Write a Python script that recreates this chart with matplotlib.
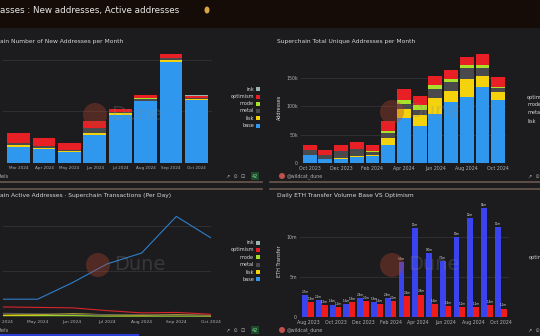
import numpy as np
import matplotlib.pyplot as plt
from matplotlib.patches import Ellipse, Rectangle

# --- data ---
series_names = ['base', 'lisk', 'metal', 'mode', 'optimism', 'ink']
series_colors = ['#2f97ee', '#f4d20c', '#4a4a4c', '#a8e02a', '#e81f24', '#9db4ae']

months_new = ['Mar 2024', 'Apr 2024', 'May 2024', 'Jun 2024',
              'Jul 2024', 'Aug 2024', 'Sep 2024', 'Oct 2024']
new_base = [31, 27, 21, 55, 94, 120, 197, 123]
new_lisk = [4.5, 3, 3, 4, 2.5, 1, 2, 1]
new_metal = [3, 3, 1.5, 8, 2, 4, 4.5, 2]
new_mode = [0.5, 0.5, 0.5, 1, 0.5, 0.5, 0.5, 0.5]
new_optimism = [19, 15, 12, 14, 6, 6.5, 8, 4.5]
new_ink = [0.3, 0.3, 0.3, 0.3, 0.3, 0.3, 0.3, 0.3]

months_tot = ['Oct 2023', 'Nov 2023', 'Dec 2023', 'Jan 2024', 'Feb 2024',
              'Mar 2024', 'Apr 2024', 'May 2024', 'Jun 2024', 'Jul 2024',
              'Aug 2024', 'Sep 2024', 'Oct 2024']
tot_base = [14.5, 7, 7, 10, 12, 32, 80, 65, 87, 108, 117, 134, 112]
tot_lisk = [0.5, 0.5, 1, 2, 2, 13, 15, 19, 27, 20, 32, 19, 13]
tot_metal = [7.5, 6, 13, 13, 6, 8, 10, 10, 17, 15, 18, 15, 8]
tot_mode = [0.5, 0.5, 0.5, 0.5, 2, 4, 7, 9, 7, 6, 6, 5, 2]
tot_optimism = [8, 9, 11, 11.5, 10, 17, 18, 16, 15, 15, 15, 19, 16]
tot_ink = [0, 0, 0, 0, 0, 0, 0, 0, 0, 0, 0, 0, 0]

months_act = ['Apr 2024', 'May 2024', 'Jun 2024', 'Jul 2024',
              'Aug 2024', 'Sep 2024', 'Oct 2024']
act_base = [0.39, 0.39, 0.75, 1.16, 1.40, 2.20, 1.73]
act_optimism = [0.22, 0.21, 0.20, 0.14, 0.09, 0.10, 0.06]
act_metal = [0.08, 0.07, 0.06, 0.05, 0.05, 0.04, 0.04]
act_lisk = [0.04, 0.05, 0.07, 0.05, 0.04, 0.05, 0.03]
act_mode = [0.03, 0.03, 0.03, 0.02, 0.02, 0.02, 0.02]
act_ink = [0.01, 0.01, 0.01, 0.01, 0.01, 0.01, 0.01]

months_eth = ['Aug 2023', 'Sep 2023', 'Oct 2023', 'Nov 2023', 'Dec 2023',
              'Jan 2024', 'Feb 2024', 'Mar 2024', 'Apr 2024', 'May 2024',
              'Jun 2024', 'Jul 2024', 'Aug 2024', 'Sep 2024', 'Oct 2024']
eth_base = [2.7, 2.1, 1.55, 1.6, 2.4, 1.9, 2.4, 6.9, 11.1, 8.0, 7.0, 10.0, 12.4, 13.6, 11.25]
eth_op = [1.9, 1.5, 1.25, 1.9, 2.0, 1.6, 2.0, 2.6, 2.8, 1.6, 1.35, 1.2, 1.25, 1.45, 1.05]

W, H = 540, 336
BG = '#1c1c1e'
TXT = '#d8d8d8'
TICK = '#b0b0b0'
GRID = '#333336'
ICONS = '↗  ⊙  ⊡'


def rect(x0, y0, x1, y1):
    return [x0 / W, 1 - y1 / H, (x1 - x0) / W, (y1 - y0) / H]


def fx(x):
    return x / W


def fy(y):
    return 1 - y / H


def style(ax, size=3.4):
    ax.set_facecolor(BG)
    for s in ax.spines.values():
        s.set_visible(False)
    ax.tick_params(length=0, colors=TICK, labelsize=size, pad=2)
    ax.grid(axis='y', color=GRID, lw=0.6)
    ax.set_axisbelow(True)


def watermark(x, y):
    fig.add_artist(Ellipse((fx(x), fy(y)), 24 / W, 24 / H, transform=fig.transFigure,
                           color='#b5452e', alpha=0.35, lw=0))
    fig.text(fx(x + 16), fy(y), 'Dune', color='#8a8a8a', alpha=0.25,
             fontsize=14, va='center', ha='left')


def legend(x, ys, labels, colors):
    for y, lab, c in zip(ys, labels, colors):
        fig.text(fx(x), fy(y), lab, color=TXT, fontsize=3.6, ha='right', va='center')
        fig.add_artist(Rectangle((fx(x + 2), fy(y + 2)), 4 / W, 4 / H,
                                 transform=fig.transFigure, color=c, lw=0))


fig = plt.figure(figsize=(5.4, 3.36), dpi=100)
fig.patch.set_facecolor(BG)

# header band
fig.add_artist(Rectangle((0, fy(28)), 1, 28 / H, transform=fig.transFigure,
                         color='#150c08', lw=0))
fig.text(fx(0), fy(10), 'asses : New addresses, Active addresses', color='#e8e8e8',
         fontsize=6.3, va='center', ha='left')
fig.add_artist(Ellipse((fx(207), fy(10)), 5 / W, 7 / H, transform=fig.transFigure,
                       color='#d9a441', lw=0))

# separators between rows
for y in (182, 189):
    fig.add_artist(plt.Line2D([0, fx(262)], [fy(y), fy(y)], color='#6a5750', lw=1.2))
    fig.add_artist(plt.Line2D([fx(270), 1], [fy(y), fy(y)], color='#6a5750', lw=1.2))

# --- top-left: new addresses per month ---
ax1 = fig.add_axes(rect(3.3, 53.8, 211.7, 163))
style(ax1, 3.0)
x = np.arange(len(months_new))
bottom = np.zeros(len(x))
for vals, c in zip([new_base, new_lisk, new_metal, new_mode, new_optimism, new_ink], series_colors):
    ax1.bar(x, vals, bottom=bottom, color=c, width=0.9, lw=0)
    bottom += np.array(vals)
ax1.set_xlim(-0.6, 7.6)
ax1.set_ylim(0, 212)
ax1.set_yticks([0, 100, 200])
ax1.set_yticklabels([])
ax1.set_xticks(x)
ax1.set_xticklabels(months_new)
fig.text(fx(0), fy(42), 'ain Number of New Addresses per Month', color=TXT, fontsize=4.3,
         va='center')
legend(254, [89.3, 96.7, 103.7, 111, 118.3, 125.7], series_names[::-1], series_colors[::-1])
watermark(95, 115)
fig.text(fx(0), fy(176), 'tels', color=TICK, fontsize=3.6, va='center')
fig.text(fx(245), fy(176), ICONS, color=TICK, fontsize=3.6, va='center', ha='right')
fig.text(fx(255), fy(176), '42', color='#7ee29a', fontsize=3.6, va='center', ha='center',
         bbox=dict(boxstyle='square,pad=0.25', fc='#1f4a2c', ec='none'))

# --- top-right: total unique addresses ---
ax2 = fig.add_axes(rect(301, 52, 506, 163))
style(ax2)
x = np.arange(len(months_tot))
bottom = np.zeros(len(x))
for vals, c in zip([tot_base, tot_lisk, tot_metal, tot_mode, tot_optimism, tot_ink], series_colors):
    ax2.bar(x, vals, bottom=bottom, color=c, width=0.88, lw=0)
    bottom += np.array(vals)
ax2.set_xlim(-0.55, 12.5)
ax2.set_ylim(0, 196)
ax2.set_yticks([0, 50, 100, 150])
ax2.set_yticklabels(['0', '50k', '100k', '150k'])
ax2.set_xticks(x[::2])
ax2.set_xticklabels(months_tot[::2])
ax2.set_ylabel('Addresses', color=TXT, fontsize=3.6, labelpad=3)
fig.text(fx(277), fy(42), 'Superchain Total Unique Addresses per Month', color=TXT,
         fontsize=4.3, va='center')
for i, lab in enumerate(['optimism', 'mode', 'metal', 'lisk']):
    fig.text(fx(527), fy(97 + i * 8), lab, color=TXT, fontsize=3.6, va='center')
watermark(392, 112)
fig.add_artist(Ellipse((fx(282), fy(176)), 6 / W, 6 / H, transform=fig.transFigure,
                       color='#c0504d', lw=0))
fig.text(fx(287), fy(176), '@wildcat_dune', color=TICK, fontsize=3.4, va='center')
fig.text(fx(540), fy(176), '↗  ⊙', color=TICK, fontsize=3.6, va='center', ha='right')

# --- bottom-left: active addresses ---
ax3 = fig.add_axes(rect(3, 205, 211, 317))
style(ax3, 3.2)
x = np.arange(len(months_act))
for vals, c in zip([act_ink, act_mode, act_lisk, act_metal, act_optimism, act_base],
                   ['#9db4ae', '#a8e02a', '#f4d20c', '#5a5a5e', '#d8262b', '#2f7fc9']):
    ax3.plot(x, vals, color=c, lw=0.8)
ax3.set_xlim(0, 6)
ax3.set_ylim(0, 2.45)
ax3.set_yticks([0, 1, 2])
ax3.set_yticklabels([])
ax3.set_xticks(x)
ax3.set_xticklabels(months_act)
fig.text(fx(0), fy(196), 'ain Active Addresses · Superchain Transactions (Per Day)', color=TXT,
         fontsize=4.3, va='center')
legend(254, [242.7, 250, 257.3, 264.7, 272, 279.3], series_names[::-1], series_colors[::-1])
watermark(98, 265)
fig.text(fx(0), fy(330), 'tels', color=TICK, fontsize=3.6, va='center')
fig.text(fx(245), fy(330), ICONS, color=TICK, fontsize=3.6, va='center', ha='right')
fig.text(fx(255), fy(330), '42', color='#7ee29a', fontsize=3.6, va='center', ha='center',
         bbox=dict(boxstyle='square,pad=0.25', fc='#1f4a2c', ec='none'))
fig.add_artist(plt.Line2D([0, fx(138)], [fy(335), fy(335)], color='#2a3fd8', lw=1.5))

# --- bottom-right: ETH transfer volume ---
ax4 = fig.add_axes(rect(299.7, 205, 509, 317))
style(ax4)
x = np.arange(len(months_eth))
ax4.bar(x - 0.21, eth_base, width=0.42, color='#3a44ee', lw=0)
ax4.bar(x + 0.21, eth_op, width=0.42, color='#f01c1c', lw=0)
for i in range(len(x)):
    for xx, v in ((x[i] - 0.21, eth_base[i]), (x[i] + 0.21, eth_op[i])):
        lab = f'{v:.0f}m' if v >= 10 else f'{v:.1f}m'
        ax4.text(xx, v + 0.15, lab, color='#e0e0e0', fontsize=2.0, ha='center', va='bottom')
ax4.set_xlim(-0.6, 14.6)
ax4.set_ylim(0, 14)
ax4.set_yticks([0, 5, 10])
ax4.set_yticklabels(['0', '5m', '10m'])
ax4.set_xticks(x[::2])
ax4.set_xticklabels(months_eth[::2])
ax4.set_ylabel('ETH Transfer', color=TXT, fontsize=3.6, labelpad=3)
fig.text(fx(277), fy(196), 'Daily ETH Transfer Volume Base VS Optimism', color=TXT,
         fontsize=4.3, va='center')
fig.text(fx(529), fy(258), 'optimism', color=TXT, fontsize=3.6, va='center')
watermark(392, 265)
fig.add_artist(Ellipse((fx(282), fy(330)), 6 / W, 6 / H, transform=fig.transFigure,
                       color='#c0504d', lw=0))
fig.text(fx(287), fy(330), '@wildcat_dune', color=TICK, fontsize=3.4, va='center')
fig.text(fx(540), fy(330), '↗  ⊙', color=TICK, fontsize=3.6, va='center', ha='right')

fig.savefig('out.png', dpi=100, facecolor=fig.get_facecolor())
